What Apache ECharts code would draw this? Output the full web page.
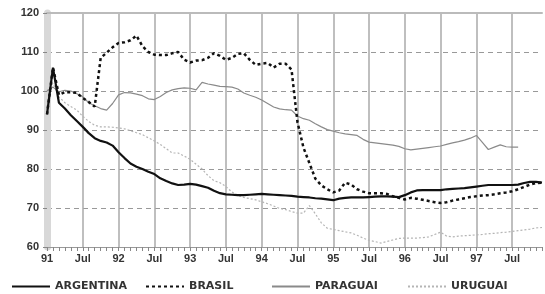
<!DOCTYPE html>
<html>
<head>
<meta charset="utf-8">
<script src="https://cdn.jsdelivr.net/npm/echarts@6/dist/echarts.min.js"></script>
<style>
html,body{margin:0;padding:0;background:#fff;}
#chart{width:545px;height:294px;}
</style>
</head>
<body>
<div id="chart"></div>
<script>
// monthly, Jan 91 .. Dec 97
var tickLabels = ["91","Jul","92","Jul","93","Jul","94","Jul","95","Jul","96","Jul","97","Jul"];

var argentina = [94,106,97,95.5,93.8,92.3,90.8,89.2,87.9,87.2,86.8,86.0,
	84.3,82.8,81.4,80.6,80.0,79.3,78.7,77.6,76.9,76.3,75.9,76.0,
	76.2,76.0,75.6,75.2,74.4,73.8,73.5,73.4,73.3,73.3,73.4,73.5,
	73.6,73.5,73.4,73.3,73.2,73.1,72.9,72.8,72.7,72.5,72.4,72.2,
	72.0,72.4,72.6,72.7,72.7,72.7,72.8,72.9,73.0,73.0,72.9,72.8,
	73.3,74.0,74.5,74.6,74.6,74.6,74.6,74.8,74.9,75.0,75.1,75.3,
	75.5,75.7,75.9,75.9,75.9,75.9,75.9,76.0,76.4,76.7,76.7,76.5];

var brasil = [94,106,99,99.7,99.7,99.5,98.2,97.2,96.0,108.5,109.8,111.2,
	112.3,112.5,113.0,114.2,111.5,110.0,109.3,109.2,109.2,109.7,110.0,108.0,
	107.3,107.8,107.9,108.5,109.7,109.0,108.0,108.5,109.5,109.7,108.0,106.7,
	107.0,107.2,106.0,107.0,107.0,105.5,92.0,85.5,81.5,77.5,75.8,74.8,
	74.0,74.5,76.5,76.0,74.8,74.2,73.8,73.8,73.8,73.6,73.0,72.6,
	72.2,72.6,72.4,72.1,71.8,71.5,71.3,71.5,71.9,72.2,72.5,72.8,
	73.0,73.2,73.3,73.5,73.8,74.0,74.3,74.8,75.4,76.0,76.4,76.5];

var paraguai = [100,101,99.8,100.2,100.0,99.3,98.5,97.0,96.2,95.5,95.1,96.8,
	99.0,99.6,99.5,99.2,98.8,98.0,97.8,98.6,99.6,100.3,100.6,100.8,
	100.7,100.3,102.2,101.8,101.5,101.2,101.1,101.0,100.5,99.5,98.9,98.4,
	97.7,96.8,95.9,95.4,95.2,95.1,93.6,92.9,92.5,91.6,90.8,90.1,
	89.7,89.3,89.0,88.8,88.6,87.6,86.9,86.7,86.5,86.3,86.1,85.8,
	85.2,84.9,85.1,85.3,85.5,85.7,85.9,86.3,86.7,87.0,87.4,87.9,
	88.6,86.8,85.0,85.6,86.2,85.7,85.6,85.6,null,null,null,null];

var uruguai = [100,102,98.5,97.0,96.0,95.1,93.5,92.2,91.2,90.8,90.8,90.7,
	90.5,90.3,89.8,89.3,88.8,88.0,87.2,86.3,85.2,84.1,84.1,83.3,
	82.5,81.2,80.0,78.3,77.0,76.5,75.5,74.1,73.2,72.7,72.4,72.1,
	71.6,71.1,70.5,69.9,69.6,69.1,68.7,68.7,70.6,68.5,66.2,64.8,
	64.5,64.2,63.9,63.6,63.0,62.3,61.7,61.4,61.0,61.4,61.8,62.2,
	62.3,62.3,62.3,62.4,62.6,63.2,63.8,62.8,62.6,62.8,62.9,63.0,
	63.1,63.2,63.4,63.5,63.7,63.8,64.0,64.2,64.4,64.6,64.9,65.0];

var months = [];
for (var i = 0; i < argentina.length; i++) months.push(i);

var labelFont = {color:"#333", fontSize:11, fontWeight:"bold", fontFamily:"Liberation Sans"};

function legendAt(name, left){
	return {
		data:[name], left:left, top:276, itemWidth:38, itemHeight:10,
		itemStyle:{opacity:0},
		textStyle:{color:"#333", fontSize:11, fontWeight:"bold", fontFamily:"DejaVu Sans"}
	};
}

var myChart = echarts.init(document.getElementById('chart'));

var option = {
	animation:false,
	backgroundColor:"#fff",
	grid:{left:47, right:0, top:13, height:234},
	legend:[
		legendAt("ARGENTINA", 6),
		legendAt("BRASIL", 140),
		legendAt("PARAGUAI", 266),
		legendAt("URUGUAI", 402)
	],
	xAxis:[
		{
			type:"category",
			data:months,
			boundaryGap:false,
			axisLine:{lineStyle:{color:"#999", width:1}},
			axisTick:{interval:0, length:4, lineStyle:{color:"#888"}},
			axisLabel:{
				interval:0, margin:6,
				formatter:function(v, idx){ return idx % 6 === 0 ? tickLabels[idx / 6] : ""; },
				color:labelFont.color, fontSize:labelFont.fontSize, fontWeight:"bold", fontFamily:labelFont.fontFamily
			},
			splitLine:{show:true, interval:function(idx){ return idx % 6 === 0 && idx > 0; }, lineStyle:{color:"#aaa", width:1.5}}
		},
		{
			type:"category",
			position:"top",
			data:months,
			boundaryGap:false,
			axisLine:{lineStyle:{color:"#bbb", width:2}},
			axisTick:{show:false},
			axisLabel:{show:false}
		}
	],
	yAxis:{
		type:"value",
		min:60, max:120, interval:10,
		axisLine:{show:true, lineStyle:{color:"#d8d8d8", width:7}},
		axisTick:{show:true, length:4, lineStyle:{color:"#888"}},
		axisLabel:{margin:8, color:labelFont.color, fontSize:labelFont.fontSize, fontWeight:"bold", fontFamily:labelFont.fontFamily},
		splitLine:{lineStyle:{color:"#999", type:[5,4], width:1}}
	},
	series:[
		{
			name:"URUGUAI", type:"line", data:uruguai, symbol:"none",
			lineStyle:{color:"#b5b5b5", width:1.2, type:[2,2]}, itemStyle:{color:"#b5b5b5"}
		},
		{
			name:"PARAGUAI", type:"line", data:paraguai, symbol:"none",
			lineStyle:{color:"#8a8a8a", width:1.2}, itemStyle:{color:"#8a8a8a"}
		},
		{
			name:"ARGENTINA", type:"line", data:argentina, symbol:"none",
			lineStyle:{color:"#111", width:2.2}, itemStyle:{color:"#111"}
		},
		{
			name:"BRASIL", type:"line", data:brasil, symbol:"none",
			lineStyle:{color:"#111", width:2.5, type:[3,3]}, itemStyle:{color:"#111"}
		}
	]
};

myChart.setOption(option);
</script>
</body>
</html>
